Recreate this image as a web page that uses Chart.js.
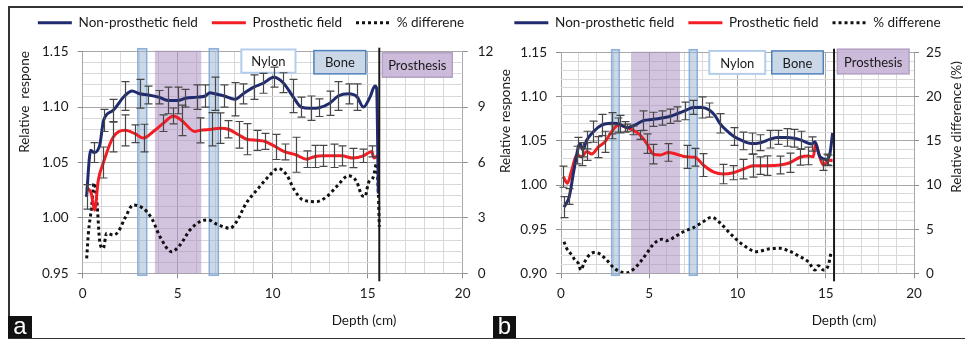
<!DOCTYPE html>
<html lang="en">
<head>
<meta charset="utf-8">
<title>Relative response vs depth</title>
<script src="https://cdn.jsdelivr.net/npm/chart.js@4.4.1/dist/chart.umd.min.js"></script>
<style>
  html, body { margin: 0; padding: 0; background: #fff; }
  #lienzo { position: relative; width: 965px; height: 341px; overflow: hidden; background: #fff; }
  #lienzo canvas { position: absolute; }
  .borde { position: absolute; background: #333; }
  .letra { position: absolute; width: 24px; height: 22px; background: #111; color: #fff;
           font: 24px "Liberation Sans", sans-serif; line-height: 20px; text-align: center; }
</style>
</head>
<body>
<div id="lienzo">
  <canvas id="graficoA" width="484" height="330" style="left:9px;top:8px"></canvas>
  <canvas id="graficoB" width="469" height="330" style="left:493px;top:8px"></canvas>
  <div class="borde" style="left:8px;top:6px;width:955px;height:1.5px"></div>
  <div class="borde" style="left:8px;top:337.5px;width:957px;height:1.5px"></div>
  <div class="borde" style="left:8px;top:6px;width:1.5px;height:333px"></div>
  <div class="letra" style="left:8px;top:316px">a</div>
  <div class="letra" style="left:493px;top:316px;width:23px">b</div>
</div>
<script>
// ---- Panel a ----
const xNoProtA = [0.2,0.42,0.6,0.9,1.1,1.6,2.2,2.6,3.0,3.45,4.0,4.5,5.0,5.4,6.0,6.45,6.7,6.95,7.45,8.0,8.45,9.0,9.5,10.05,10.55,11.05,11.5,12.0,12.45,13.0,13.45,14.0,14.45,14.77,15.12,15.38,15.47,15.56];
const yNoProtA = [1.019,1.061,1.059,1.066,1.088,1.097,1.110,1.1145,1.112,1.111,1.109,1.106,1.106,1.108,1.109,1.110,1.113,1.112,1.110,1.107,1.112,1.118,1.1215,1.127,1.122,1.110,1.100,1.099,1.0995,1.1035,1.110,1.112,1.109,1.100,1.109,1.119,1.117,1.022];
const eNoProtA = [0.011,null,0.009,null,0.010,0.010,0.013,null,0.013,0.008,0.006,0.012,0.012,0.008,0.011,0.010,null,0.015,0.010,0.015,0.009,0.011,0.009,0.009,0.009,0.015,0.009,0.011,0.008,0.011,0.013,0.009,0.012,null,null,null,null,null];

const xProtA = [0.2,0.45,0.63,0.82,1.09,1.61,2.23,2.75,3.2,3.72,4.25,4.77,5.21,5.9,6.17,6.79,7.23,7.67,8.2,8.63,9.16,9.6,10.17,10.65,11.21,11.79,12.23,12.67,13.2,13.63,14.24,14.77,15.21,15.33,15.56];
const yProtA = [1.0276,1.022,1.007,1.034,1.050,1.073,1.079,1.076,1.072,1.078,1.0855,1.092,1.088,1.078,1.079,1.080,1.081,1.080,1.075,1.071,1.070,1.069,1.064,1.0595,1.057,1.053,1.0555,1.056,1.056,1.056,1.054,1.056,1.060,1.054,1.057];
const eProtA = [null,null,null,null,0.014,0.0135,0.014,0.008,0.0125,null,0.0075,0.0072,0.0138,null,0.0113,0.015,0.0138,0.0078,0.012,0.014,0.009,0.0072,0.0113,0.0072,0.0158,0.0075,0.010,0.0095,0.0105,0.009,0.0087,0.006,0.005,null,null];

const xDifA = [0.21,0.3,0.47,0.6,0.74,0.91,1.08,1.26,1.61,1.87,2.22,2.66,3.18,3.63,4.07,4.68,5.12,5.64,6.17,6.6,7.04,7.75,8.1,8.6,9.24,9.77,10.3,10.74,11.14,11.6,12.3,12.84,13.36,13.98,14.42,14.68,14.86,15.03,15.3,15.47,15.56,15.61];
const pDifA = [0.81,2.17,3.6,4.9,3.97,1.62,1.35,2.17,2.07,2.25,2.98,3.7,3.52,2.98,1.98,1.17,1.53,2.34,2.8,2.89,2.67,2.44,2.8,3.79,4.6,5.23,5.68,5.32,4.51,3.97,3.88,4.15,4.69,5.28,4.96,4.24,4.15,4.87,5.23,5.95,4.33,2.52];

// ---- Panel b ----
const xNoProtB = [0.17,0.47,0.7,0.98,1.08,1.23,1.46,1.83,2.3,2.87,3.34,3.72,4.19,4.66,5.23,5.7,6.2,6.55,7.0,7.5,8.0,8.4,8.72,9.0,9.39,9.8,10.3,10.8,11.3,11.85,12.3,12.79,13.2,13.6,14.2,14.39,14.67,15.05,15.24,15.39];
const yNoProtB = [0.975,0.987,1.013,1.043,1.047,1.040,1.051,1.0605,1.068,1.070,1.069,1.065,1.068,1.073,1.0745,1.076,1.078,1.0805,1.084,1.088,1.088,1.085,1.079,1.070,1.0616,1.055,1.050,1.047,1.048,1.052,1.054,1.054,1.053,1.051,1.0465,1.049,1.032,1.029,1.036,1.059];
const eNoProtB = [0.012,0.009,null,0.011,null,0.008,0.010,0.012,0.012,0.012,0.010,0.004,null,0.011,0.008,0.008,0.008,0.008,0.010,0.008,0.012,0.008,null,0.011,null,0.010,0.010,0.012,0.009,0.010,0.008,0.010,0.010,0.010,0.008,null,null,0.006,null,null];

const xProtB = [0.13,0.36,0.61,0.89,1.17,1.46,1.74,2.11,2.49,2.87,3.25,3.63,4.1,4.48,4.86,5.23,5.61,6.08,6.55,7.12,7.59,8.06,8.63,9.2,9.76,10.33,10.9,11.3,11.65,12.41,12.97,13.54,14.01,14.29,14.43,14.58,14.86,15.15,15.39];
const yProtB = [1.0095,1.002,1.017,1.034,1.032,1.038,1.0352,1.043,1.049,1.0605,1.068,1.066,1.062,1.0567,1.047,1.035,1.034,1.037,1.035,1.032,1.0315,1.0227,1.015,1.0125,1.014,1.018,1.022,1.022,1.022,1.0227,1.0253,1.0315,1.033,1.032,1.047,1.0375,1.0227,1.028,1.0276];
const eProtB = [0.012,null,null,0.010,0.010,0.010,null,0.012,0.012,0.008,0.008,0.006,0.005,0.005,0.011,0.011,null,0.010,null,0.013,0.010,0.013,null,0.011,0.008,0.011,0.013,0.010,0.011,0.010,0.011,0.009,0.010,null,null,null,0.006,0.006,null];

const xDifB = [0.17,0.32,0.61,0.79,0.98,1.13,1.3,1.55,1.93,2.21,2.59,2.96,3.34,3.72,4.1,4.48,4.86,5.23,5.7,5.99,6.46,6.93,7.5,7.97,8.54,9.0,9.67,10.33,11.09,11.75,12.41,12.88,13.54,14.01,14.39,14.58,14.86,15.15,15.32];
const pDifB = [3.58,2.83,2.07,1.5,1.13,0.37,1.13,1.96,2.38,2.19,1.51,0.68,0.18,0.07,0.45,1.25,2.27,3.29,3.85,3.69,4.15,4.71,5.17,5.73,6.35,5.73,4.34,3.2,2.45,2.75,2.83,2.56,1.88,1.31,0.37,0.86,0.37,0.94,2.56];

// zonas del maniqui (cm) y cajas de texto (cm, respuesta)
const bandasA = [[2.9, 3.37, 'azul'], [3.8, 6.24, 'morado'], [6.66, 7.14, 'azul']];
const bandasB = [[2.87, 3.30, 'azul'], [4.0, 6.74, 'morado'], [7.27, 7.72, 'azul']];
const cajasA = [['Nylon', 8.35, 11.2, 1.131, 1.152, 'nylon'], ['Bone', 12.17, 14.9, 1.130, 1.151, 'hueso'], ['Prosthesis', 15.77, 19.45, 1.127, 1.149, 'protesis']];
const cajasB = [['Nylon', 8.4, 11.57, 1.126, 1.152, 'nylon'], ['Bone', 11.94, 14.86, 1.126, 1.152, 'hueso'], ['Prosthesis', 15.66, 19.72, 1.126, 1.154, 'protesis']];
const limiteA = 15.61;
const limiteB = 15.47;

const etiquetasSeries = ['Non-prosthetic field', 'Prosthetic field', '% differene'];

const FUENTE = 'Lato, "Liberation Sans", sans-serif';
Chart.defaults.font.family = FUENTE;
Chart.defaults.font.size = 13.5;
Chart.defaults.color = '#1a1a1a';

const estilos = {
    azul:     { fill: 'rgba(150,178,210,0.5)', stroke: 'rgba(125,165,215,0.85)', w: 1.5 },
    morado:   { fill: 'rgba(165,135,190,0.5)', stroke: null, w: 0 },
    nylon:    { fill: '#ffffff', stroke: '#b4cdea', w: 2 },
    hueso:    { fill: '#c9d7e7', stroke: '#4f81bd', w: 1.5 },
    protesis: { fill: 'rgba(200,180,215,0.9)', stroke: '#b3a1c3', w: 1.5 }
};
const MAYOR = '#a8a8a8';
const MENOR = '#d9d9d9';

const puntos = (xs, ys) => xs.map((x, i) => ({ x: x, y: ys[i] }));

// bandas y cajas debajo de las curvas, barras de error y limite encima
const zonas = {
    id: 'zonas',
    beforeDatasetsDraw(chart, args, opts) {
        const { ctx, chartArea: area, scales: { x, y } } = chart;
        ctx.save();
        opts.bandas.forEach(([x0, x1, tipo]) => {
            const e = estilos[tipo];
            const l = x.getPixelForValue(x0), r = x.getPixelForValue(x1);
            const t = area.top - (tipo === 'azul' ? 3 : 1), b = area.bottom + (tipo === 'azul' ? 2 : 0);
            ctx.fillStyle = e.fill;
            ctx.fillRect(l, t, r - l, b - t);
            if (e.stroke) { ctx.strokeStyle = e.stroke; ctx.lineWidth = e.w; ctx.strokeRect(l, t, r - l, b - t); }
        });
        opts.cajas.forEach(([texto, x0, x1, y0, y1, tipo]) => {
            const e = estilos[tipo];
            const l = x.getPixelForValue(x0), r = x.getPixelForValue(x1);
            const t = y.getPixelForValue(y1), b = y.getPixelForValue(y0);
            ctx.fillStyle = e.fill;
            ctx.fillRect(l, t, r - l, b - t);
            ctx.strokeStyle = e.stroke; ctx.lineWidth = e.w;
            ctx.strokeRect(l, t, r - l, b - t);
            ctx.fillStyle = '#1a1a1a';
            ctx.font = '13px ' + FUENTE;
            ctx.textAlign = 'center'; ctx.textBaseline = 'middle';
            ctx.fillText(texto, (l + r) / 2, (t + b) / 2 + 1);
        });
        ctx.restore();
    },
    afterDatasetsDraw(chart, args, opts) {
        const { ctx, chartArea: area, scales } = chart;
        ctx.save();
        ctx.strokeStyle = '#474747';
        ctx.lineWidth = 1.2;
        chart.data.datasets.forEach((ds, i) => {
            if (!ds.errores) return;
            const meta = chart.getDatasetMeta(i);
            const ys = scales[ds.yAxisID || 'y'];
            ds.data.forEach((p, j) => {
                const e = ds.errores[j];
                if (e == null) return;
                const px = Math.round(meta.data[j].x) + 0.5;
                const top = ys.getPixelForValue(p.y + e), bot = ys.getPixelForValue(p.y - e);
                ctx.beginPath();
                ctx.moveTo(px, top); ctx.lineTo(px, bot);
                ctx.moveTo(px - 4, top); ctx.lineTo(px + 4, top);
                ctx.moveTo(px - 4, bot); ctx.lineTo(px + 4, bot);
                ctx.stroke();
            });
        });
        const lx = scales.x.getPixelForValue(opts.limite);
        ctx.strokeStyle = '#1a1a1a';
        ctx.lineWidth = 2;
        ctx.beginPath();
        ctx.moveTo(lx, area.top - 4);
        ctx.lineTo(lx, area.bottom + 8);
        ctx.stroke();
        ctx.restore();
    }
};

// titulos de ejes colocados como en la figura original
const titulos = {
    id: 'titulos',
    afterDraw(chart, args, opts) {
        const ctx = chart.ctx;
        ctx.save();
        ctx.font = '13.5px ' + FUENTE;
        ctx.fillStyle = '#1a1a1a';
        ctx.textAlign = 'center';
        ctx.textBaseline = 'middle';
        opts.textos.forEach(([texto, x, y, giro]) => {
            ctx.save();
            ctx.translate(x, y);
            ctx.rotate(giro);
            ctx.fillText(texto, 0, 0);
            ctx.restore();
        });
        ctx.restore();
    }
};

// alto fijo de la leyenda para fijar el area del grafico
const altoLeyenda = {
    id: 'altoLeyenda',
    beforeUpdate(chart, args, opts) {
        const lg = chart.legend;
        if (lg && !lg._fijo) {
            const fit = lg.fit;
            lg.fit = function () { fit.call(this); this.height = opts.alto; };
            lg._fijo = true;
        }
    }
};

function esMultiplo(v, paso) {
    const k = Math.round(v / paso * 1000) / 1000;
    return Math.abs(k - Math.round(k)) < 1e-6;
}

function crearGrafico(id, c) {
    const grafico = document.querySelector(id);
    return new Chart(grafico, {
        type: 'line',
        data: {
            datasets: [
                {
                    label: etiquetasSeries[0], data: puntos(c.xNo, c.yNo), errores: c.eNo,
                    borderColor: '#1f2b6e', borderWidth: 3, yAxisID: 'y'
                },
                {
                    label: etiquetasSeries[1], data: puntos(c.xPr, c.yPr), errores: c.ePr,
                    borderColor: '#f21e24', borderWidth: 3, yAxisID: 'y'
                },
                {
                    label: etiquetasSeries[2], data: puntos(c.xDif, c.pDif),
                    borderColor: '#111', borderWidth: 3, borderDash: [3, 3], yAxisID: 'y1'
                }
            ]
        },
        options: {
            responsive: false,
            animation: false,
            cubicInterpolationMode: 'monotone',
            elements: { point: { radius: 0 }, line: { fill: false } },
            layout: { padding: { top: -6, left: 0, right: 0, bottom: 0 } },
            plugins: {
                tooltip: { enabled: false },
                legend: {
                    position: 'top',
                    labels: {
                        usePointStyle: true,
                        pointStyleWidth: 34,
                        padding: 14,
                        font: { size: 13.5 },
                        generateLabels: ch => ch.data.datasets.map((ds, i) => ({
                            text: ds.label, datasetIndex: i, hidden: false,
                            strokeStyle: ds.borderColor, fillStyle: ds.borderColor,
                            lineWidth: ds.borderWidth, lineDash: ds.borderDash || [],
                            pointStyle: 'line', fontColor: '#1a1a1a'
                        }))
                    }
                },
                altoLeyenda: { alto: c.altoLeyenda },
                zonas: { bandas: c.bandas, cajas: c.cajas, limite: c.limite },
                titulos: { textos: c.textos }
            },
            scales: {
                x: {
                    type: 'linear', min: 0, max: 20,
                    afterFit: s => { s.height = c.altoX; },
                    border: { display: false },
                    grid: {
                        color: ctx => ctx.tick && esMultiplo(ctx.tick.value, 5) ? MAYOR : MENOR,
                        tickColor: ctx => ctx.tick && esMultiplo(ctx.tick.value, 5) ? '#8c8c8c' : 'rgba(0,0,0,0)',
                        tickLength: 5
                    },
                    ticks: {
                        stepSize: 1, autoSkip: false, maxRotation: 0, padding: 7,
                        callback: v => esMultiplo(v, 5) ? String(v) : ''
                    }
                },
                y: {
                    position: 'left', min: c.yMin, max: 1.15,
                    afterFit: s => { s.width = c.anchoY; },
                    border: { display: false },
                    grid: {
                        color: ctx => ctx.tick && esMultiplo(ctx.tick.value, 0.05) ? MAYOR : MENOR,
                        tickColor: ctx => ctx.tick && esMultiplo(ctx.tick.value, 0.05) ? '#8c8c8c' : 'rgba(0,0,0,0)',
                        tickLength: 5
                    },
                    ticks: {
                        stepSize: 0.01, autoSkip: false, padding: 9,
                        callback: v => esMultiplo(v, 0.05) ? v.toFixed(2) : ''
                    }
                },
                y1: {
                    position: 'right', min: 0, max: c.pMax,
                    afterFit: s => { s.width = c.anchoY1; },
                    border: { display: false },
                    grid: { drawOnChartArea: false, tickColor: '#8c8c8c', tickLength: 5 },
                    ticks: { stepSize: c.pPaso, padding: c.padY1 }
                }
            }
        },
        plugins: [altoLeyenda, zonas, titulos]
    });
}

crearGrafico('#graficoA', {
    xNo: xNoProtA, yNo: yNoProtA, eNo: eNoProtA,
    xPr: xProtA, yPr: yProtA, ePr: eProtA,
    xDif: xDifA, pDif: pDifA,
    yMin: 0.95, pMax: 12, pPaso: 3,
    bandas: bandasA, cajas: cajasA, limite: limiteA,
    altoLeyenda: 49.7, altoX: 64.7, anchoY: 73.7, anchoY1: 30.3, padY1: 10,
    textos: [['Relative  respone', 16, 94, -Math.PI / 2], ['Depth (cm)', 355, 313, 0]]
});

crearGrafico('#graficoB', {
    xNo: xNoProtB, yNo: yNoProtB, eNo: eNoProtB,
    xPr: xProtB, yPr: yProtB, ePr: eProtB,
    xDif: xDifB, pDif: pDifB,
    yMin: 0.90, pMax: 25, pPaso: 5,
    bandas: bandasB, cajas: cajasB, limite: limiteB,
    altoLeyenda: 50.7, altoX: 64.7, anchoY: 68, anchoY1: 48, padY1: 7,
    textos: [['Relative response', 13, 113, -Math.PI / 2], ['Relative difference (%)', 464, 119, -Math.PI / 2], ['Depth (cm)', 351, 313, 0]]
});
</script>
</body>
</html>
